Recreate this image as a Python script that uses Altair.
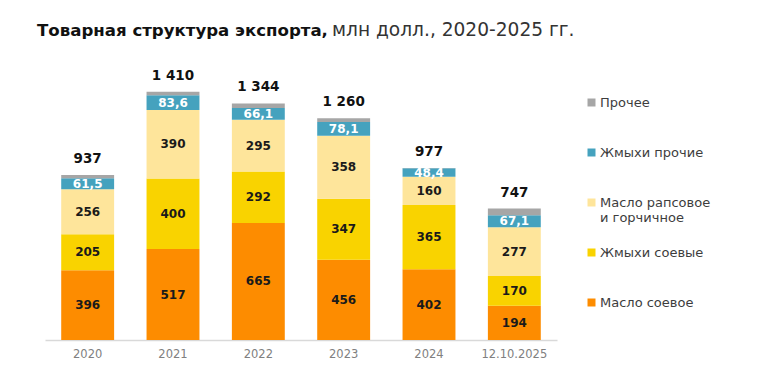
import altair as alt
import pandas as pd

years = ["2020", "2021", "2022", "2023", "2024", "12.10.2025"]
totals = [937, 1410, 1344, 1260, 977, 747]
soy_oil = [396, 517, 665, 456, 402, 194]
soy_meal = [205, 400, 292, 347, 365, 170]
rape_oil = [256, 390, 295, 358, 160, 277]
other_meal = [61.5, 83.6, 66.1, 78.1, 48.4, 67.1]

categories = ["Масло соевое", "Жмыхи соевые", "Масло рапсовое и горчичное", "Жмыхи прочие", "Прочее"]
colors = ["#fd8c00", "#f9d300", "#fee59b", "#45a2be", "#a6a6a6"]

title_bold = "Товарная структура экспорта,"
title_rest = "млн долл., 2020-2025 гг."

FONT = "DejaVu Sans"


def fmt(v):
    if float(v).is_integer():
        return f"{int(v):,}".replace(",", " ")
    return f"{v:.1f}".replace(".", ",")


other = [round(t - a - b - c - d, 1) for t, a, b, c, d in zip(totals, soy_oil, soy_meal, rape_oil, other_meal)]
series = [soy_oil, soy_meal, rape_oil, other_meal, other]

rows = []
for ci, (cat, vals) in enumerate(zip(categories, series)):
    for y, v in zip(years, vals):
        rows.append({
            "year": y, "cat": cat, "value": v, "order": ci,
            "label": fmt(v),
            "tc": "#ffffff" if cat == "Жмыхи прочие" else "#1a1a1a",
        })
df = pd.DataFrame(rows)
tot_df = pd.DataFrame({"year": years, "total": totals, "label": [fmt(t) for t in totals]})

y_scale = alt.Scale(domain=[0, 1500])
x_enc = alt.X(
    "year:N", sort=years, title=None,
    scale=alt.Scale(paddingInner=0.38, paddingOuter=0.19),
    axis=alt.Axis(labelAngle=0, ticks=False, domainColor="#d9d9d9", domainWidth=1.5,
                  labelColor="#808080", labelFontSize=11.5, labelFont=FONT, labelPadding=8),
)

base = alt.Chart(df).transform_stack(
    stack="value", groupby=["year"], as_=["v0", "v1"],
    sort=[alt.SortField("order", order="ascending")],
).transform_calculate(mid="(datum.v0 + datum.v1) / 2")

legend_domain = categories[::-1]
legend_range = colors[::-1]

bars = base.mark_bar().encode(
    x=x_enc,
    y=alt.Y("v0:Q", scale=y_scale, axis=None),
    y2="v1:Q",
    color=alt.Color(
        "cat:N",
        scale=alt.Scale(domain=legend_domain, range=legend_range),
        legend=alt.Legend(
            title=None, orient="none", legendX=540, legendY=14,
            symbolType="M-1,0.5H1V2.5H-1Z", symbolSize=64, symbolStrokeWidth=0,
            labelFont=FONT, labelFontSize=13, labelColor="#3d3d3d",
            labelBaseline="top", labelOffset=2, labelLimit=300,
            gridAlign="all", rowPadding=15,
            labelExpr="datum.label == 'Масло рапсовое и горчичное' ? ['Масло рапсовое', 'и горчичное'] : datum.label",
        ),
    ),
)

seg_labels = base.transform_filter("datum.cat != 'Прочее'").mark_text(
    font=FONT, fontSize=12, fontWeight="bold", baseline="middle"
).encode(
    x=alt.X("year:N", sort=years),
    y=alt.Y("mid:Q", scale=y_scale),
    text="label:N",
    color=alt.Color("tc:N", scale=None),
)

total_labels = alt.Chart(tot_df).mark_text(
    font=FONT, fontSize=13.5, fontWeight="bold", baseline="alphabetic", dy=-12, color="#111111"
).encode(
    x=alt.X("year:N", sort=years),
    y=alt.Y("total:Q", scale=y_scale),
    text="label:N",
)

t1 = alt.Chart(pd.DataFrame({"t": [title_bold]})).mark_text(
    font=FONT, fontSize=16.6, fontWeight="bold", align="left", baseline="alphabetic", color="#111111"
).encode(x=alt.value(-8), y=alt.value(-40), text="t:N")

t2 = alt.Chart(pd.DataFrame({"t": [title_rest]})).mark_text(
    font=FONT, fontSize=18.6, align="left", baseline="alphabetic", color="#333333"
).encode(x=alt.value(287), y=alt.value(-40), text="t:N")

chart = alt.layer(bars, seg_labels, total_labels, t1, t2).properties(
    width=512, height=264,
    autosize=alt.AutoSizeParams(type="none"),
    padding={"left": 37, "top": 68, "right": 200, "bottom": 29},
).configure_view(stroke=None)

chart.save("out.html", embed_options={"renderer": "svg", "actions": False})
